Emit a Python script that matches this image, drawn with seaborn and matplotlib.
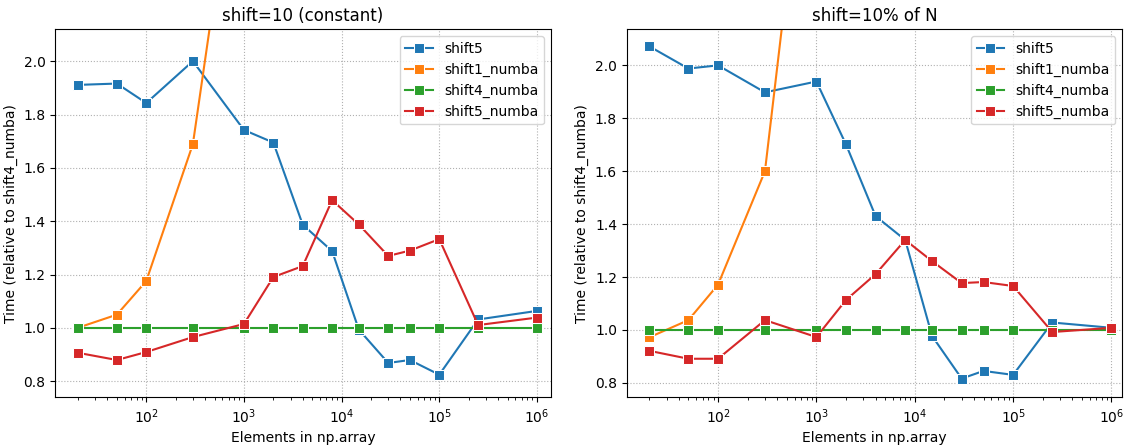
import numpy as np
import pandas as pd
import seaborn as sns
import matplotlib
matplotlib.use("Agg")
import matplotlib.pyplot as plt

# Array sizes (x axis)
sizes = [20, 50, 100, 300, 1000, 2000, 4000, 8000, 15000, 30000, 50000, 100000, 250000, 1000000]
series_names = ["shift5", "shift1_numba", "shift4_numba", "shift5_numba"]

# Left panel: shift=10 (constant)
const_shift5 = [1.911, 1.916, 1.843, 2.000, 1.742, 1.695, 1.387, 1.288, 0.994, 0.869, 0.880, 0.825, 1.032, 1.064]
const_shift1_numba = [1.001, 1.050, 1.176, 1.689, 3.01, 4.3, 5.6, 7.2, 8.5, 9.6, 10.2, 11.0, 11.8, 12.5]
const_shift4_numba = [1.0] * 14
const_shift5_numba = [0.907, 0.880, 0.910, 0.966, 1.015, 1.191, 1.232, 1.479, 1.388, 1.270, 1.290, 1.333, 1.011, 1.039]

# Right panel: shift=10% of N
pct_shift5 = [2.072, 1.988, 2.000, 1.898, 1.939, 1.701, 1.430, 1.340, 0.977, 0.816, 0.845, 0.830, 1.028, 1.008]
pct_shift1_numba = [0.972, 1.037, 1.171, 1.600, 3.25, 4.6, 6.0, 7.4, 8.8, 9.9, 10.6, 11.3, 12.0, 12.8]
pct_shift4_numba = [1.0] * 14
pct_shift5_numba = [0.921, 0.891, 0.891, 1.037, 0.973, 1.113, 1.211, 1.340, 1.260, 1.177, 1.181, 1.166, 0.992, 1.008]


def to_long(values):
    frames = []
    for name, vals in zip(series_names, values):
        frames.append(pd.DataFrame({"N": sizes, "time": vals, "method": name}))
    return pd.concat(frames, ignore_index=True)


panels = [
    ("shift=10 (constant)", to_long([const_shift5, const_shift1_numba, const_shift4_numba, const_shift5_numba]),
     (0.74, 2.12), (11.7, 1.39e6)),
    ("shift=10% of N", to_long([pct_shift5, pct_shift1_numba, pct_shift4_numba, pct_shift5_numba]),
     (0.745, 2.137), (11.8, 1.29e6)),
]

palette = dict(zip(series_names, sns.color_palette("tab10")[:4]))

fig, axes = plt.subplots(1, 2, figsize=(11.28, 4.48), dpi=100)
for ax, (title, df, ylim, xlim) in zip(axes, panels):
    sns.lineplot(data=df, x="N", y="time", hue="method", hue_order=series_names,
                 palette=palette, marker="s", markersize=7, ax=ax)
    ax.set_xscale("log")
    ax.set_xlim(*xlim)
    ax.set_ylim(*ylim)
    ax.grid(True, linestyle=":", color="#b0b0b0")
    ax.set_title(title)
    ax.set_xlabel("Elements in np.array")
    ax.set_ylabel("Time (relative to shift4_numba)")
    ax.legend(loc="upper right")

fig.subplots_adjust(left=0.049, right=0.995, top=0.935, bottom=0.113, wspace=0.153)
plt.savefig("out.png")
